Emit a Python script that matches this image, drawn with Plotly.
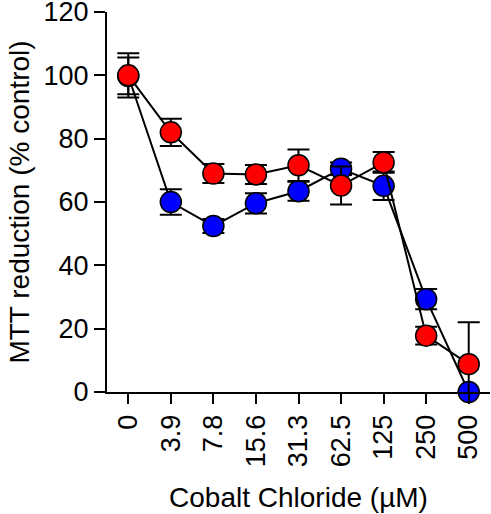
import plotly.graph_objects as go

concentrations = ["0", "3.9", "7.8", "15.6", "31.3", "62.5", "125", "250", "500"]
red_values = [100, 82, 69, 68.7, 71.6, 65.2, 72.5, 17.8, 8.8]
red_errors = [7, 4.3, 3, 3, 5, 6, 3.3, 2.8, 13.2]
blue_values = [99.8, 60, 52.4, 59.6, 63.4, 70.5, 65.1, 29.3, 0]
blue_errors = [5.8, 4, 2.2, 3.2, 3, 2, 4.5, 3.2, 0]
y_ticks = [0, 20, 40, 60, 80, 100, 120]

FONT = "Liberation Sans, Arial, sans-serif"
x_idx = list(range(len(concentrations)))

fig = go.Figure()
for vals, errs, color in [(blue_values, blue_errors, "#0000ff"), (red_values, red_errors, "#ff0000")]:
    fig.add_trace(go.Scatter(
        x=x_idx, y=vals,
        mode="lines+markers",
        line=dict(color="black", width=2),
        marker=dict(size=21, color=color, line=dict(color="black", width=1.5)),
        error_y=dict(type="data", array=errs, visible=True, color="black", thickness=2, width=11),
        cliponaxis=False,
        showlegend=False,
    ))

fig.update_layout(
    width=491, height=514,
    margin=dict(l=107, r=1, t=12, b=122),
    plot_bgcolor="white", paper_bgcolor="white",
    font=dict(family=FONT, size=27, color="black"),
)
fig.update_xaxes(
    range=[-0.5, 8.5],
    tickmode="array", tickvals=x_idx, ticktext=concentrations,
    tickangle=-90,
    showline=True, linecolor="black", linewidth=2,
    ticks="outside", ticklen=10, tickwidth=2, tickcolor="black",
    showgrid=False, zeroline=False, automargin=False,
    ticklabeloverflow="allow",
    title=dict(text="Cobalt Chloride (µM)", font=dict(size=28), standoff=21),
    tickfont=dict(size=27),
)
fig.update_yaxes(
    range=[0, 120],
    tickvals=y_ticks,
    showline=True, linecolor="black", linewidth=2,
    ticks="outside", ticklen=11, tickwidth=2, tickcolor="black",
    showgrid=False, zeroline=False, automargin=False,
    ticklabeloverflow="allow",
    title=dict(text="MTT reduction (% control)", font=dict(size=28), standoff=6),
    tickfont=dict(size=27),
)

fig.write_html(
    "out.html",
    config={"displayModeBar": False},
    post_script="document.body.style.margin='0';document.body.style.overflow='hidden';",
)
